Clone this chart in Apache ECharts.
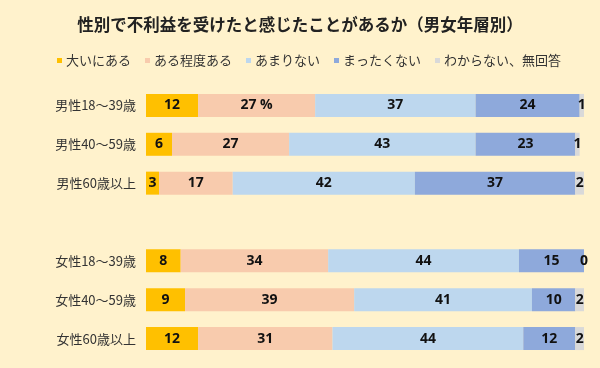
<!DOCTYPE html>
<html><head><meta charset="utf-8">
<script src="https://cdn.jsdelivr.net/npm/echarts@6/dist/echarts.min.js"></script>
<style>html,body{margin:0;padding:0;background:#FFF2CC;}#c{width:600px;height:368px;}</style>
</head><body><div id="c"></div>
<script>
const titleText = '性別で不利益を受けたと感じたことがあるか（男女年層別）';
const maleGroups = ['男性18～39歳', '男性40～59歳', '男性60歳以上'];
const femaleGroups = ['女性18～39歳', '女性40～59歳', '女性60歳以上'];
const seriesNames = ['大いにある', 'ある程度ある', 'あまりない', 'まったくない', 'わからない、無回答'];
// values per series: male rows then female rows
const ooiniAru = [12, 6, 3, 8, 9, 12];
const aruTeido = [27, 27, 17, 34, 39, 31];
const amariNai = [37, 43, 42, 44, 41, 44];
const mattakuNai = [24, 23, 37, 15, 10, 12];
const wakaranai = [1, 1, 2, 0, 2, 2];
const colors = ['#FFC000', '#F8CBAD', '#BDD7EE', '#8EA9DB', '#D9D9D9'];

const categories = [...maleGroups, '', ...femaleGroups];
const withGap = arr => [arr[0], arr[1], arr[2], null, arr[3], arr[4], arr[5]];
const allValues = [ooiniAru, aruTeido, amariNai, mattakuNai, wakaranai];

const chart = echarts.init(document.getElementById('c'));
const series = allValues.map((vals, si) => {
  const data = withGap(vals).map((v, i) => {
    if (si === 1 && i === 0) {
      return { value: v, label: { formatter: '{c} %' } };
    }
    return v;
  });
  return {
    name: seriesNames[si],
    type: 'bar',
    stack: 'all',
    barWidth: 23,
    data: data,
    itemStyle: { color: colors[si] },
    label: {
      show: true,
      position: 'inside',
      color: '#111',
      fontWeight: 'bold',
      fontSize: 14,
      fontFamily: 'Open Sans, Noto Sans, sans-serif'
    },
    emphasis: { disabled: true }
  };
});

chart.setOption({
  backgroundColor: '#FFF2CC',
  animation: false,
  title: {
    text: titleText,
    left: 'center',
    top: 11,
    textStyle: { fontSize: 16.5, fontWeight: 'bold', color: '#222', fontFamily: 'Noto Sans CJK JP' }
  },
  legend: {
    left: 52,
    top: 49,
    itemWidth: 5,
    itemHeight: 5,
    itemGap: 14,
    icon: 'rect',
    textStyle: { fontSize: 13, color: '#333', fontFamily: 'Noto Sans CJK JP', padding: [0, 0, 0, -1] },
    data: seriesNames
  },
  grid: { left: 146, right: 16, top: 86, bottom: 10, containLabel: false },
  xAxis: { type: 'value', min: 0, max: 101, show: false },
  yAxis: {
    type: 'category',
    inverse: true,
    data: categories,
    axisLine: { show: false },
    axisTick: { show: false },
    axisLabel: { fontSize: 13, color: '#333', margin: 10, fontFamily: 'Noto Sans CJK JP' }
  },
  series: series
});
</script></body></html>
